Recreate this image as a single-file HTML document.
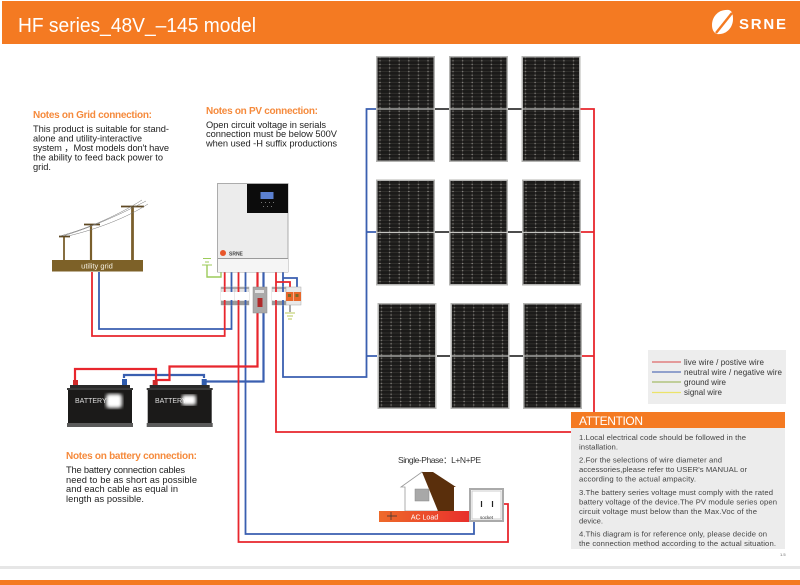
<!DOCTYPE html>
<html><head><meta charset="utf-8">
<style>html,body{margin:0;padding:0;background:#fff}svg{display:block}
text{font-family:"Liberation Sans","Noto Sans CJK SC",sans-serif}</style></head>
<body>
<svg width="800" height="585" viewBox="0 0 800 585" xmlns="http://www.w3.org/2000/svg">
<defs>
<pattern id="pv" width="9.6" height="7.2" patternUnits="userSpaceOnUse">
<rect width="9.6" height="7.2" fill="#1b1a19"/>
<path d="M0 1.2H9.6M0 4.8H9.6" stroke="#45433f" stroke-width=".5"/>
<path d="M4 0V7.2" stroke="#3d3b38" stroke-width=".6"/>
<path d="M3.300 1.200H4.700M3.300 4.800H4.700" stroke="#a8a5a0" stroke-width=".7"/>
</pattern>
<linearGradient id="load" x1="0" x2="1"><stop offset="0" stop-color="#ee6a2a"/><stop offset="1" stop-color="#e8302c"/></linearGradient>
<filter id="blur"><feGaussianBlur stdDeviation="1.8"/></filter>
<g id="panel">
<rect x="0" y="0" width="59" height="106" fill="#b4b4b2"/>
<rect x="1.5" y="1.5" width="56" height="103" fill="url(#pv)"/>
<rect x="0" y="52.4" width="59" height="1.2" fill="#c4c4c0"/>
</g>
<g id="brk">
<rect x="0" y="0" width="14" height="18" fill="#e4e4e4" stroke="#aaa" stroke-width=".5"/>
<rect x="0" y="5" width="14" height="8" fill="#fff"/>
<rect x="0" y="14" width="14" height="4" fill="#999"/>
<rect x="0" y="0" width="14" height="2" fill="#aaa"/>
</g>
</defs>

<rect width="800" height="585" fill="#fff"/>
<!-- header -->
<rect x="2" y="1" width="798" height="43" fill="#f47a22"/>
<text x="18" y="32" font-size="20" fill="#fff" textLength="238" lengthAdjust="spacingAndGlyphs">HF series_48V_–145 model</text>
<path d="M729 10C718 9 712 17 712 25C712 30 714 33 717 34C727 35 733 27 733 19C733 14 732 11 729 10Z" fill="#fff"/>
<path d="M716 33L732 13" stroke="#f47a22" stroke-width="2.4"/>
<text x="739" y="29" font-size="15" font-weight="bold" fill="#fff" textLength="47">SRNE</text>

<!-- footer -->
<rect x="0" y="566" width="800" height="3" fill="#e6e6e6"/>
<rect x="0" y="580" width="800" height="5" fill="#f47a22"/>

<!-- notes -->
<g font-size="9.3" fill="#222">
<text x="33" y="118" font-size="10" font-weight="bold" fill="#f58a3c" textLength="119">Notes on Grid connection:</text>
<text x="33" y="132" textLength="136">This product is suitable for stand-</text>
<text x="33" y="141.5" textLength="109">alone and utility-interactive</text>
<text x="33" y="151" textLength="136">system ，Most models don't have</text>
<text x="33" y="160.5" textLength="130">the ability to feed back power to</text>
<text x="33" y="170" textLength="18">grid.</text>
<text x="206" y="114" font-size="10" font-weight="bold" fill="#f58a3c" textLength="112">Notes on PV connection:</text>
<text x="206" y="128" textLength="120">Open circuit voltage in serials</text>
<text x="206" y="137" textLength="131">connection must be below 500V</text>
<text x="206" y="146.5" textLength="131">when used -H suffix productions</text>
<text x="66" y="459" font-size="10" font-weight="bold" fill="#f58a3c" textLength="131">Notes on battery connection:</text>
<text x="66" y="473" textLength="119">The battery connection cables</text>
<text x="66" y="483" textLength="131">need to be as short as possible</text>
<text x="66" y="492" textLength="112">and each cable as equal in</text>
<text x="66" y="502" textLength="78">length as possible.</text>
</g>

<!-- wires blue/red -->
<g fill="none" stroke-linejoin="miter">
<g stroke="#3a5fb0" stroke-width="1.8">
<path d="M376 109H366.500V377H283V272"/>
<path d="M366.500 232H376M366.500 356H377"/>
<path d="M99 272V329H231.500V272"/>
<path d="M245.500 272V534H474V503H481"/>
<path d="M283 278H297V288"/>
</g>
<g stroke="#3a5fb0" stroke-width="2.200">
<path d="M263.500 272V381.500H206"/>
<path d="M124 378V375H204V378"/>
</g>
<g stroke="#e8262d" stroke-width="1.800">
<path d="M580 109H594V432H276V272"/>
<path d="M580 232H594M582 356H594"/>
<path d="M92 272V336H224.700V272"/>
<path d="M238.500 272V542H508V504H493"/>
<path d="M276 282H290V288"/>
</g>
<g stroke="#e8262d" stroke-width="2.200">
<path d="M257.500 272V366.500H169.500V380H156"/>
<path d="M75 380V369H156V383"/>
</g>
<path d="M435 109H449M508 109H522M435 232H449M508 232H522M437 356H450M509 356H523" stroke="#111" stroke-width="1.400"/>
<path d="M207 265V277H221V272" stroke="#9ccb5a" stroke-width="1.400"/>
<path d="M290 305V312" stroke="#555" stroke-width="1"/>
</g>
<!-- ground symbols -->
<path d="M203 258.500H211M205 262H209M202 265H212" stroke="#9ccb5a" stroke-width="1" fill="none"/>
<path d="M285 313H295M287 316H293M288 319H292" stroke="#b9c95a" stroke-width="1" fill="none"/>

<!-- panels -->
<use href="#panel" x="376" y="56"/><use href="#panel" x="449" y="56"/><use href="#panel" x="521.500" y="56"/>
<use href="#panel" x="376" y="179.500"/><use href="#panel" x="449" y="179.500"/><use href="#panel" x="522" y="179.500"/>
<use href="#panel" x="377.500" y="303"/><use href="#panel" x="450.500" y="303"/><use href="#panel" x="523" y="303"/>

<!-- inverter -->
<rect x="217.500" y="183.500" width="70.500" height="88.500" fill="#ececec" stroke="#9a9a9a" stroke-width=".8"/>
<rect x="247" y="184" width="41" height="29" fill="#0c0c0c"/>
<rect x="260.500" y="192" width="13" height="7" fill="#5b80d0"/>
<path d="M261 202.500H274M263 206.500H272" stroke="#777" stroke-width="1" stroke-dasharray="1 3"/>
<rect x="218" y="258" width="70" height="1" fill="#9a9a9a"/>
<rect x="218" y="259" width="70" height="13" fill="#f5f5f5"/>
<circle cx="223" cy="253" r="3" fill="#e8562a"/>
<text x="229" y="255.500" font-size="5" font-weight="bold" fill="#444">SRNE</text>

<!-- breakers -->
<use href="#brk" x="221" y="287"/><use href="#brk" x="235" y="287"/><use href="#brk" x="272" y="287"/>
<path d="M231.500 287V292M231.500 300V305M245.500 287V292M245.500 300V305M283 287V292M283 300V305" stroke="#3a5fb0" stroke-width="1.800"/>
<path d="M224.700 287V292M224.700 300V305M238.500 287V292M238.500 300V305M276 287V292M276 300V305" stroke="#e8262d" stroke-width="1.800"/>
<rect x="253" y="287" width="14" height="26" fill="#aaa9a9" stroke="#8a8a8a" stroke-width=".5"/>
<rect x="257.500" y="298" width="5" height="9" fill="#b02a2a"/>
<rect x="255" y="290" width="9" height="3" fill="#e4e4e4"/>
<rect x="286" y="287" width="15" height="18" fill="#e8e8e8" stroke="#aaa" stroke-width=".5"/>
<rect x="286" y="292" width="15" height="9" fill="#e8672a"/>
<path d="M293.500 292V301" stroke="#fff" stroke-width=".5"/>
<rect x="288" y="294" width="3" height="3" fill="#7a6a2a"/><rect x="295.500" y="294" width="3" height="3" fill="#7a6a2a"/>

<!-- grid -->
<g stroke="#7a5f2c" fill="none">
<path d="M64 236V260" stroke-width="1.800"/><path d="M91 225V260" stroke-width="2.200"/><path d="M132.500 207V260" stroke-width="2.800"/>
<path d="M59 236.500H70M84 224.500H100M121 206.500H144" stroke-width="1.800" stroke="#5e4822"/>
<g stroke="#777" stroke-width=".5">
<path d="M60 236C90 228 120 214 142 200M63 236C93 227 123 213 146 201M68 236C98 229 128 217 148 204"/>
</g></g>
<rect x="52" y="260" width="91" height="11.500" fill="#7d6128"/>
<text x="97" y="268.500" font-size="7.500" fill="#f4efe2" text-anchor="middle">utility grid</text>

<!-- batteries -->
<g id="b">
<rect x="73" y="380" width="5" height="6" fill="#d02a2a"/><rect x="122" y="379" width="5" height="7" fill="#2f5cae"/>
<rect x="70" y="385" width="60" height="4" fill="#2a2a2a"/>
<rect x="67" y="388" width="66" height="2" fill="#3a3a3a"/>
<rect x="68" y="390" width="64" height="34" fill="#1b1a19"/>
<rect x="67" y="423" width="66" height="4" fill="#5a5a5a"/>
</g>
<use href="#b" x="79.700"/>
<text x="75" y="403" font-size="7" fill="#ddd">BATTERY 4</text>
<text x="155" y="403" font-size="7" fill="#ddd">BATTERY</text>
<rect x="106" y="394" width="16" height="14" rx="3" fill="#fff" filter="url(#blur)"/>
<rect x="182" y="395" width="14" height="10" rx="2" fill="#fff" filter="url(#blur)"/>

<!-- house -->
<path d="M401 487L422 472L443 487H438V511H405V487Z" fill="#fff" stroke="#9a9a9a" stroke-width=".8"/>
<path d="M422 472H433L456 487H438V511Z" fill="#5a2f0c"/>
<rect x="438" y="487" width="16" height="24" fill="#5a2f0c"/>
<rect x="415" y="489" width="14" height="12" fill="#a8a8a8" stroke="#888" stroke-width=".5"/>
<rect x="379" y="511" width="90" height="11" fill="url(#load)"/>
<path d="M391 512V520M387 516H397" stroke="#333" stroke-width=".7"/>
<text x="424.500" y="519.500" font-size="7" fill="#fff" text-anchor="middle">AC Load</text>
<text x="398" y="463" font-size="8.500" fill="#333" textLength="83">Single-Phase：L+N+PE</text>
<rect x="470" y="489" width="33" height="32" fill="#fff" stroke="#aaa" stroke-width="2"/>
<rect x="472" y="491" width="29" height="28" fill="none" stroke="#ccc" stroke-width="1"/>
<text x="486.500" y="519" font-size="4.500" fill="#333" text-anchor="middle">socket</text>
<path d="M481.500 501V507M492.500 501V507" stroke="#222" stroke-width="1.200"/>

<!-- legend -->
<rect x="648" y="350" width="138" height="54" fill="#ededed"/>
<path d="M652 362H681" stroke="#e0686a" stroke-width="1.200"/>
<path d="M652 372H681" stroke="#5a72b8" stroke-width="1.200"/>
<path d="M652 382H681" stroke="#a6bd6a" stroke-width="1.200"/>
<path d="M652 392.500H681" stroke="#ece36a" stroke-width="1.200"/>
<g font-size="8" fill="#333">
<text x="684" y="365" textLength="80">live wire / postive wire</text>
<text x="684" y="375" textLength="98">neutral wire / negative wire</text>
<text x="684" y="385" textLength="42">ground wire</text>
<text x="684" y="395" textLength="38">signal wire</text>
</g>

<!-- attention -->
<rect x="571" y="412" width="214" height="137" fill="#ececec"/>
<rect x="571" y="412" width="214" height="16" fill="#f47a22"/>
<text x="579" y="425" font-size="12" fill="#fff" textLength="64">ATTENTION</text>
<g font-size="7.700" fill="#444">
<text x="579" y="440" textLength="167">1.Local electrical code should be followed in the</text>
<text x="579" y="449.500" textLength="39">installation.</text>
<text x="579" y="462.500" textLength="143">2.For the selections of wire diameter and</text>
<text x="579" y="472" textLength="168">accessories,please refer tto USER's MANUAL or</text>
<text x="579" y="481.500" textLength="117">according to the actual ampacity.</text>
<text x="579" y="495" textLength="194">3.The battery series voltage must comply with the rated</text>
<text x="579" y="504.500" textLength="198">battery voltage of the device.The PV module series open</text>
<text x="579" y="514" textLength="178">circuit voltage must below than the Max.Voc of the</text>
<text x="579" y="523.500" textLength="24">device.</text>
<text x="579" y="536.500" textLength="188">4.This diagram is for reference only, please decide on</text>
<text x="579" y="546" textLength="197">the connection method according to the actual situation.</text>
</g>
<text x="780" y="556" font-size="4" fill="#666">1.5</text>
</svg>
</body></html>
